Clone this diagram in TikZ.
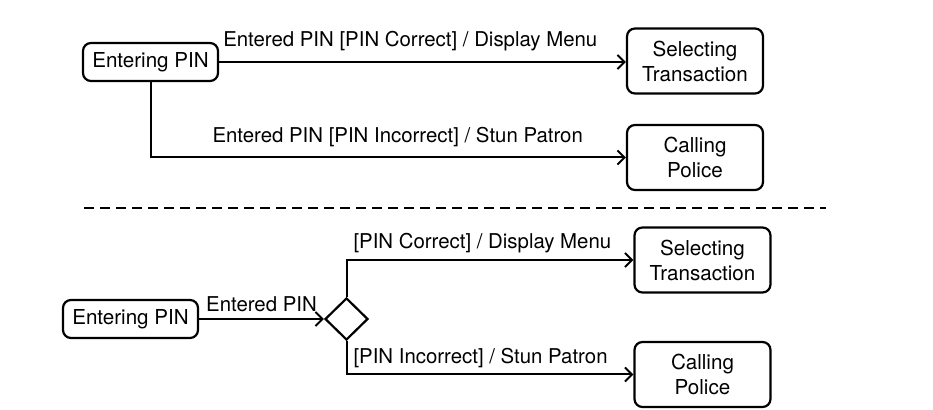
\documentclass[tikz,border=0pt]{standalone}
\usepackage{fontspec}
\setmainfont{TeX Gyre Heros}
\usetikzlibrary{arrows.meta,shapes.geometric}

\begin{document}
\begin{tikzpicture}[x=0.5pt,y=-0.5pt,->,>={Straight Barb[length=3.5pt,width=7pt]},line width=1pt]
    \tikzstyle{state}=[draw=black, rounded corners=4pt, line width=1.1pt, minimum width=67.5pt, align=center, font=\fontsize{10.3}{12.5}\selectfont, inner sep=2pt]
    \tikzstyle{start}=[style=state, minimum height=19pt]
    \tikzstyle{goal}=[style=state, minimum width=68pt, minimum height=32.5pt]
    \tikzstyle{choice}=[draw=black, diamond, line width=1.1pt, minimum width=21.5pt, minimum height=21pt, inner sep=0pt]
    \tikzstyle{lbl}=[font=\fontsize{10.2}{12}\selectfont, inner sep=3pt]

    \useasboundingbox (0,0) rectangle (933,410);

    % single transition per guard
    \node[start] (entry1)  at (150.5,62)  {Entering PIN};
    \node[goal]  (select1) at (695,61)    {Selecting\\Transaction};
    \node[goal]  (police1) at (695,157.5) {Calling\\Police};

    \path
     (entry1) edge node[lbl, above, pos=0.47, yshift=2pt] {Entered PIN [PIN Correct] / Display Menu} (entry1 -| select1.west)
     ;
    \draw (entry1.south) |- node[lbl, above, pos=0.76, yshift=2pt] {Entered PIN [PIN Incorrect] / Stun Patron} (police1.west);

    % separator
    \coordinate (sepL) at (84,208);
    \coordinate (sepR) at (826,208);
    \draw[-, dash pattern=on 5pt off 3pt] (sepL) -- (sepR);

    % choice pseudostate
    \node[start]  (entry2)  at (130.5,319) {Entering PIN};
    \node[choice] (junc)    at (346.5,319) {};
    \node[goal]   (select2) at (702.5,260) {Selecting\\Transaction};
    \node[goal]   (police2) at (702.5,374.5) {Calling\\Police};

    \path
     (entry2) edge node[lbl, above, pos=0.5] {Entered PIN} (junc)
     ;
    \draw (junc.north) |- node[lbl, above right, pos=0.5] {[PIN Correct] / Display Menu} (select2.west);
    \draw (junc.south) |- node[lbl, above right, pos=0.5] {[PIN Incorrect] / Stun Patron} (police2.west);
\end{tikzpicture}
\end{document}
